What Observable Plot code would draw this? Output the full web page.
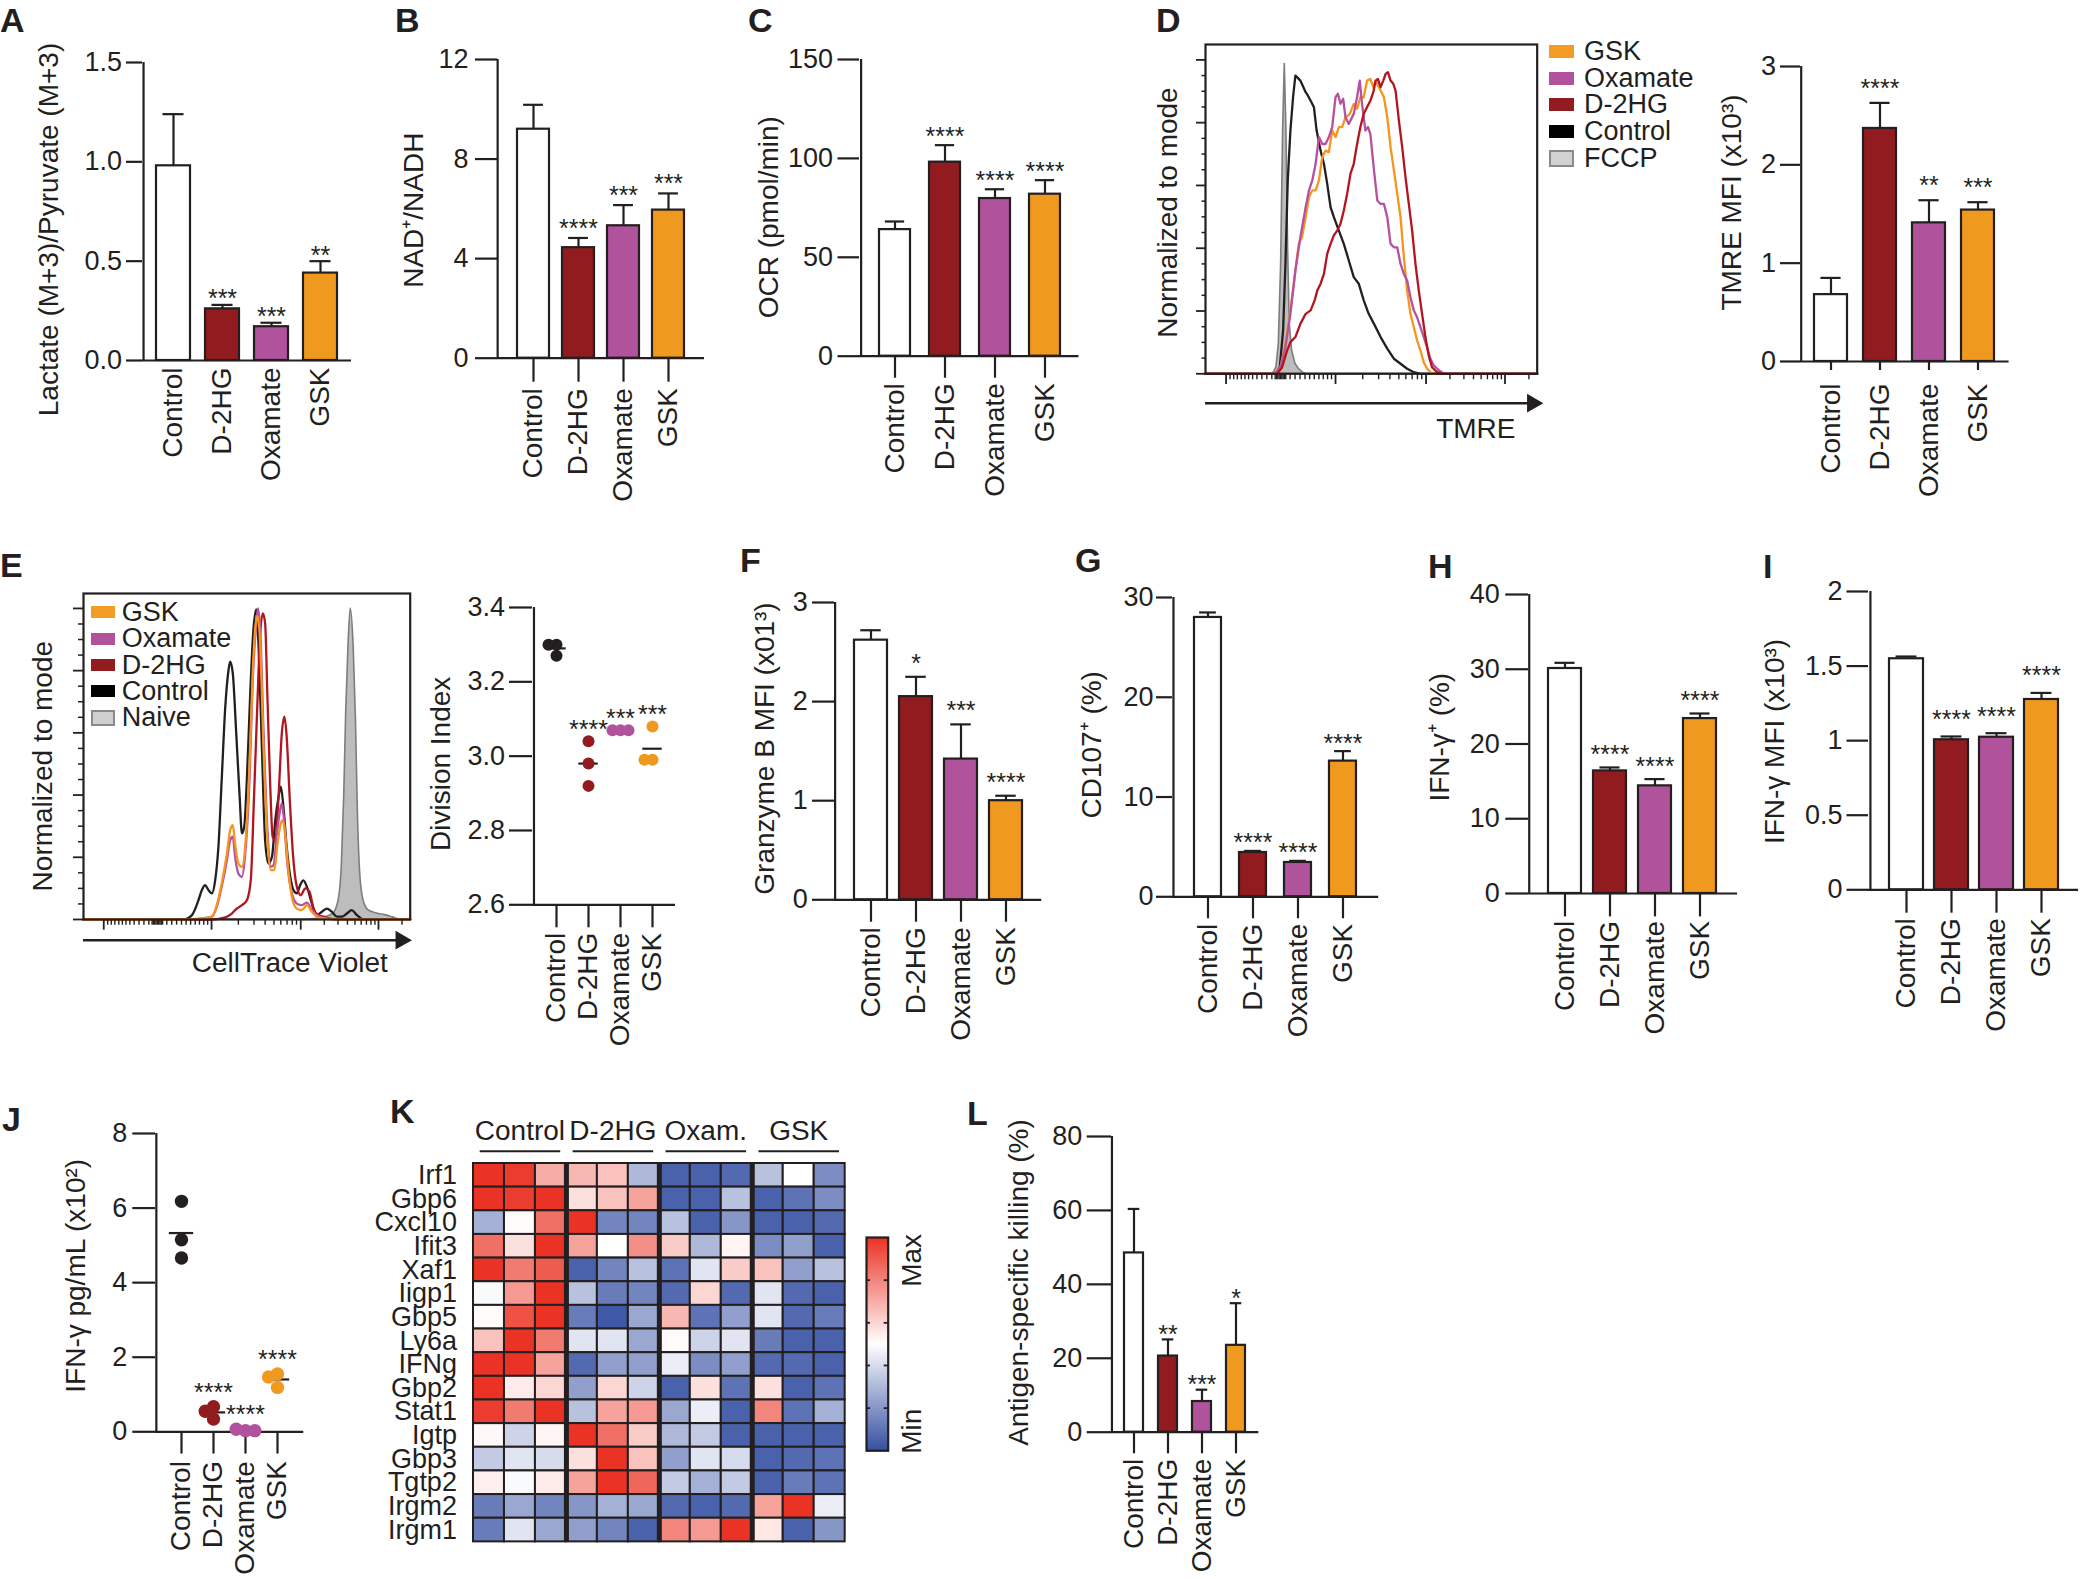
<!DOCTYPE html>
<html><head><meta charset="utf-8">
<script src="https://cdn.jsdelivr.net/npm/d3@7"></script>
<script src="https://cdn.jsdelivr.net/npm/@observablehq/plot@0.6"></script>
<style>
html,body{margin:0;padding:0;background:#fff;}
#root{position:relative;width:2080px;height:1579px;overflow:hidden;font-family:'Liberation Sans',Arial,Helvetica,sans-serif;color:#231f20;background:#fff;}
.plabel{position:absolute;font-weight:bold;font-size:34px;line-height:34px;}
.leg{position:absolute;display:flex;align-items:center;font-size:27px;line-height:1;white-space:nowrap;}
.sw{display:inline-block;box-sizing:border-box;}
</style></head><body><div id="root"></div><script>
// ---------------- DATA ----------------
const groups = ["Control", "D-2HG", "Oxamate", "GSK"];
const barFill = ["#ffffff", "#921b1f", "#b1529c", "#f0991f"];
const dotFill = ["#231f20", "#921b1f", "#b1529c", "#f0991f"];

// A
const lactateRatio = [0.98, 0.26, 0.17, 0.44];
const lactateRatioSEM = [0.26, 0.02, 0.02, 0.06];
const lactateStars = ["", "***", "***", "**"];
// B
const nadRatio = [9.2, 4.44, 5.32, 5.95];
const nadRatioSEM = [0.98, 0.39, 0.83, 0.67];
const nadStars = ["", "****", "***", "***"];
// C
const ocr = [64.0, 98.1, 79.7, 81.9];
const ocrSEM = [4.1, 8.6, 4.7, 7.1];
const ocrStars = ["", "****", "****", "****"];
// D (bar)
const tmreMFI = [0.68, 2.37, 1.41, 1.54];
const tmreMFISEM = [0.17, 0.26, 0.23, 0.08];
const tmreStars = ["", "****", "**", "***"];
// F
const granzymeMFI = [2.62, 2.05, 1.42, 1.0];
const granzymeSEM = [0.1, 0.2, 0.35, 0.05];
const granzymeStars = ["", "*", "***", "****"];
// G
const cd107 = [28.0, 4.44, 3.44, 13.6];
const cd107SEM = [0.5, 0.16, 0.16, 1.0];
const cd107Stars = ["", "****", "****", "****"];
// H
const ifngPct = [30.1, 16.4, 14.4, 23.4];
const ifngPctSEM = [0.76, 0.46, 0.9, 0.68];
const ifngPctStars = ["", "****", "****", "****"];
// I
const ifngMFI = [1.549, 1.006, 1.023, 1.276];
const ifngMFISEM = [0.015, 0.022, 0.027, 0.044];
const ifngMFIStars = ["", "****", "****", "****"];
// L
const killing = [48.5, 20.6, 8.3, 23.5];
const killingSEM = [11.9, 4.5, 3.2, 11.4];
const killingStars = ["", "**", "***", "*"];
// E (dots)
const divisionIndex = [[3.27, 3.30, 3.30], [3.04, 2.98, 2.92], [3.07, 3.07, 3.07], [3.08, 2.99, 2.99]];
const divisionStars = ["", "****", "***", "***"];
// J (dots)
const ifngConc = [[6.18, 5.15, 4.66], [0.34, 0.67, 0.55], [0.03, 0.07, 0.03], [1.55, 1.19, 1.47]];
const ifngConcStars = ["", "****", "****", "****"];

// D histogram: [position on biexponential TMRE axis (0-100), % of mode]
const tmreFCCP = [[0,0],[20.4,0],[21.4,2.1],[22.1,9.6],[22.8,35.0],[23.4,77.5],[23.9,98.7],[24.4,77.5],[24.9,40.3],[25.4,15.9],[26.1,7.4],[27.1,3.2],[28.1,1.6],[29.6,0.2],[30.7,0],[100,0]];
const tmreControl = [[0,0],[21.1,0],[22.4,2.1],[23.4,13.8],[24.1,35.0],[24.8,61.6],[25.6,77.5],[26.4,88.1],[27.1,95.0],[27.6,94.5],[28.6,93.4],[30.2,89.7],[30.9,88.6],[31.7,87.0],[32.7,84.9],[33.5,77.5],[34.7,71.1],[35.7,66.9],[36.7,60.5],[37.7,53.1],[38.7,49.9],[40.2,45.6],[41.7,41.4],[43.2,36.1],[44.7,30.8],[46.2,28.7],[47.7,23.4],[49.2,19.1],[50.8,15.9],[52.8,11.7],[54.8,8.0],[56.8,4.8],[58.8,3.2],[60.8,1.6],[62.8,0.5],[64.8,0],[100,0]];
const tmreOxamate = [[0,0],[21.1,0],[22.6,2.1],[24.1,8.5],[25.6,19.1],[27.1,32.9],[28.6,43.5],[30.2,53.1],[31.2,58.4],[32.2,61.6],[33.2,66.9],[34.2,75.4],[35.2,73.2],[36.2,73.2],[37.2,75.4],[38.2,78.6],[39.2,88.1],[39.9,89.2],[40.7,86.0],[41.5,87.6],[42.2,81.7],[43.2,79.6],[44.7,82.8],[45.7,88.1],[46.5,93.4],[47.2,86.0],[48.2,77.5],[49.0,78.6],[49.7,76.4],[50.8,64.8],[51.8,55.2],[52.8,54.1],[53.8,54.1],[54.8,49.9],[55.8,41.4],[56.8,40.3],[57.8,40.3],[58.8,35.0],[59.8,31.8],[60.8,29.7],[61.8,24.4],[62.8,20.2],[63.8,18.0],[64.8,14.9],[65.8,11.7],[66.8,8.5],[67.8,4.8],[68.8,2.7],[70.4,1.1],[71.9,0],[100,0]];
const tmreGSK = [[0,0],[21.1,0],[22.6,2.1],[24.1,9.6],[25.6,20.2],[27.1,32.9],[28.1,41.4],[29.1,43.5],[30.2,49.9],[31.2,56.3],[32.2,58.4],[33.2,58.4],[34.2,61.6],[35.2,69.0],[36.2,71.1],[37.2,70.6],[38.2,77.5],[39.2,75.4],[40.2,78.6],[41.2,78.6],[42.2,81.7],[43.5,82.8],[44.7,86.0],[45.7,84.4],[46.7,88.1],[47.7,88.1],[48.7,93.4],[49.7,93.9],[50.6,91.3],[51.3,93.4],[52.0,91.8],[52.8,90.2],[53.8,88.1],[54.8,81.7],[55.8,72.2],[56.8,64.8],[57.8,57.3],[58.8,49.9],[59.8,37.2],[60.8,26.5],[61.8,19.1],[62.8,14.9],[63.8,10.6],[64.8,7.4],[65.8,3.7],[66.8,1.6],[68.3,0],[100,0]];
const tmreD2HG = [[0,0],[21.6,0],[23.1,2.1],[24.6,7.4],[25.6,10.1],[27.1,11.7],[28.6,15.9],[30.2,19.1],[31.7,20.2],[32.9,23.4],[33.7,26.5],[34.7,28.7],[35.7,31.8],[36.7,38.2],[37.7,41.4],[38.7,44.1],[39.7,45.6],[40.7,47.8],[41.7,52.0],[42.7,57.3],[43.7,63.7],[44.7,66.9],[45.7,73.2],[46.7,78.6],[47.7,82.8],[48.7,84.9],[49.7,87.0],[50.6,89.7],[51.3,93.4],[52.0,93.9],[52.8,91.3],[53.6,93.4],[54.3,95.5],[55.0,96.1],[55.8,93.4],[56.6,92.4],[57.3,90.2],[58.3,80.7],[59.3,72.2],[60.3,62.6],[61.3,54.1],[62.3,45.6],[63.3,35.0],[64.3,26.5],[65.3,19.1],[66.3,11.7],[67.3,5.8],[68.3,2.1],[69.8,0.5],[71.4,0],[100,0]];

// E histogram: [position on biexponential CellTrace Violet axis (0-100), % of mode]
const ctvNaive = [[0,0],[68.4,0],[73.5,0.6],[76.5,1.9],[78.1,6.2],[79.1,18.0],[79.8,39.4],[80.4,66.2],[81.1,87.7],[81.8,100],[82.7,87.7],[83.4,64.1],[84.0,34.1],[84.7,14.8],[85.7,6.2],[87.2,3.0],[89.8,1.9],[92.3,1.4],[94.9,0.6],[96.9,0],[100,0]];
const ctvControl = [[0,0],[30.6,0],[33.2,1.4],[35.2,6.2],[36.2,9.4],[37.2,11.0],[38.3,9.4],[39.3,8.4],[40.3,12.6],[41.3,23.4],[42.3,44.8],[43.4,68.4],[44.4,80.2],[44.9,82.9],[45.7,79.1],[46.7,60.9],[47.8,39.4],[48.5,27.7],[49.2,29.8],[50.0,44.8],[51.0,71.6],[52.0,93.0],[52.9,99.7],[53.6,87.7],[54.6,55.5],[55.6,25.5],[56.6,18.0],[57.7,20.2],[58.7,31.9],[59.7,39.4],[60.4,42.7],[61.2,36.2],[62.2,23.4],[63.3,13.7],[64.3,9.4],[65.3,8.4],[66.3,11.0],[67.3,12.6],[68.4,10.5],[69.9,5.1],[71.4,1.4],[73.0,2.5],[74.5,3.5],[76.0,2.5],[77.6,0.9],[79.1,0.9],[80.6,1.9],[82.1,3.0],[83.7,1.4],[85.7,0],[100,0]];
const ctvD2HG = [[0,0],[38.8,0],[41.8,0.3],[43.9,0.9],[45.4,1.9],[46.9,3.5],[48.5,4.6],[50.0,6.2],[51.2,12.6],[52.2,39.4],[53.3,71.6],[54.1,92.0],[54.9,98.4],[55.6,95.2],[56.3,71.6],[57.1,44.8],[57.9,26.6],[58.7,25.5],[59.7,39.4],[60.7,59.8],[61.5,65.2],[62.2,58.7],[63.1,39.4],[64.1,21.2],[65.3,10.5],[66.5,7.8],[67.9,10.0],[69.2,8.9],[70.4,3.5],[71.9,1.4],[73.5,0.9],[75.5,0.3],[78.6,0],[100,0]];
const ctvOxamate = [[0,0],[30.6,0],[35.7,0.3],[39.3,0.9],[40.8,4.1],[42.3,10.5],[43.9,19.1],[44.9,25.5],[45.7,26.6],[46.4,20.2],[47.4,14.8],[48.5,13.7],[49.5,21.2],[50.8,44.8],[51.8,77.0],[52.9,95.2],[53.4,100],[54.1,93.0],[55.1,60.9],[56.3,28.7],[57.3,16.9],[58.2,17.5],[59.2,27.7],[60.2,35.2],[60.7,37.3],[61.4,31.9],[62.4,17.9],[63.8,8.4],[65.3,5.1],[66.8,4.6],[68.4,5.4],[69.9,3.0],[71.9,1.1],[74.5,0.3],[78.6,0],[100,0]];
const ctvGSK = [[0,0],[30.6,0],[35.7,0.3],[39.3,0.9],[40.8,4.6],[42.3,11.6],[43.9,21.2],[44.9,28.7],[45.7,30.3],[46.4,24.4],[47.4,18.0],[48.5,16.9],[49.5,23.4],[50.8,49.1],[51.8,79.1],[52.6,94.0],[53.3,97.5],[54.1,88.5],[55.1,55.5],[56.3,25.5],[57.3,15.9],[58.4,15.9],[59.4,24.4],[60.4,30.9],[61.0,31.9],[61.7,27.7],[62.8,14.8],[64.0,6.2],[65.3,3.5],[66.8,3.0],[68.4,4.6],[69.9,2.5],[71.9,0.6],[74.5,0.2],[78.6,0],[100,0]];

const histMajorTicks = [6.2, 39.2, 66.5, 90.3];
const histMinorTicks = [7.4, 8.5, 9.6, 10.8, 11.9, 13.0, 14.2, 15.5, 17.0, 18.5, 20.0, 21.0, 21.4, 21.8, 22.2, 22.6, 23.0, 23.4, 23.8, 24.2, 25.5, 27.0, 28.5, 30.0, 31.4, 32.8, 34.2, 35.5, 36.8, 38.0, 47.4, 52.2, 55.6, 58.3, 60.4, 62.3, 63.9, 65.2, 73.7, 77.9, 80.8, 83.1, 85.0, 86.6, 88.0, 89.2, 97.5];
const modeMajorTicks = [0, 20, 40, 60, 80, 100];
const modeMinorTicks = [5, 10, 15, 25, 30, 35, 45, 50, 55, 65, 70, 75, 85, 90, 95];

const tmreLegend = ["GSK", "Oxamate", "D-2HG", "Control", "FCCP"];
const ctvLegend = ["GSK", "Oxamate", "D-2HG", "Control", "Naive"];

// K heatmap (row-scaled expression, -1 = Min, 1 = Max)
const heatGenes = ["Irf1","Gbp6","Cxcl10","Ifit3","Xaf1","Iigp1","Gbp5","Ly6a","IFNg","Gbp2","Stat1","Igtp","Gbp3","Tgtp2","Irgm2","Irgm1"];
const heatGroups = ["Control", "D-2HG", "Oxam.", "GSK"];
const heatZ = [
  [1, 0.95, 0.4, 0.35, 0.3, -0.4, -0.9, -0.9, -0.85, -0.35, 0.0, -0.65],
  [1, 0.95, 1, 0.15, 0.3, 0.45, -0.9, -0.9, -0.35, -0.9, -0.8, -0.65],
  [-0.45, 0.02, 0.7, 1, -0.7, -0.7, -0.35, -0.9, -0.6, -0.9, -0.9, -0.85],
  [0.7, 0.15, 1, 0.45, 0.0, 0.55, 0.25, -0.4, 0.05, -0.65, -0.55, -0.9],
  [1, 0.65, 0.8, -0.9, -0.7, -0.35, -0.8, -0.15, 0.25, 0.3, -0.55, -0.35],
  [-0.03, 0.5, 1, -0.35, -0.75, -0.7, -0.85, 0.2, -0.85, -0.15, -0.85, -0.9],
  [0.02, 0.85, 1, -0.75, -0.95, -0.5, 0.35, -0.8, -0.55, -0.15, -0.85, -0.75],
  [0.3, 1, 0.65, -0.15, -0.15, -0.5, 0.02, -0.25, -0.15, -0.75, -0.9, -0.9],
  [1, 1, 0.45, -0.85, -0.55, -0.55, -0.1, -0.65, -0.55, -0.85, -0.85, -0.9],
  [1, 0.1, 0.2, -0.55, 0.2, -0.25, -0.9, 0.15, -0.8, 0.15, -0.9, -0.8],
  [0.95, 0.65, 1, -0.35, 0.45, 0.5, -0.5, -0.1, -0.9, 0.6, -0.8, -0.45],
  [0.03, -0.25, 0.05, 1, 0.7, 0.25, -0.4, -0.3, -0.9, -0.9, -0.9, -0.9],
  [-0.3, -0.15, -0.2, 0.15, 1, 0.3, -0.55, -0.15, -0.2, -0.9, -0.85, -0.8],
  [0.08, -0.03, 0.1, 0.45, 1, 0.75, -0.3, -0.45, -0.3, -0.9, -0.75, -0.8],
  [-0.75, -0.5, -0.7, -0.6, -0.45, -0.5, -0.85, -0.9, -0.85, 0.45, 1, -0.1],
  [-0.75, -0.15, -0.5, -0.55, -0.7, -0.9, 0.6, 0.5, 1, 0.12, -0.9, -0.6]
];

// ---------------- RENDER ----------------
const INK = "#231f20";
const FONT = "'Liberation Sans', Arial, Helvetica, sans-serif";
const root = document.getElementById("root");
const baseStyle = {fontFamily: FONT, fontSize: "27px", color: INK, background: "transparent", overflow: "visible"};
const heatColor = {type: "linear", domain: [-1, 0, 1], range: ["#3550a2", "#ffffff", "#ea3324"]};
const plainFmt = d => String(d);

function place(node, left, top) {
  node.style.position = "absolute";
  node.style.left = left + "px";
  node.style.top = top + "px";
  node.style.maxWidth = "none";
  root.appendChild(node);
}

function catPanel(cfg, extraMarks) {
  const mL = 150, mR = 14, mT = 60, mB = 200;
  const fw = cfg.right - cfg.axisX, fh = cfg.zero - cfg.top;
  const ymin = cfg.min ?? 0;
  const step = fw / (groups.length - cfg.pi + 2 * cfg.po);
  const bw = step * (1 - cfg.pi);
  const firstCenter = cfg.po * step + bw / 2;
  const geo = {mL, mR, mT, mB, width: mL + fw + mR, height: mT + fh + mB, bw, ymin};
  const marks = [
    ...extraMarks(geo),
    Plot.ruleY([ymin], {stroke: INK, strokeWidth: 2.2}),
    Plot.ruleX([groups[0]], {y1: ymin, y2: cfg.max, dx: -firstCenter, stroke: INK, strokeWidth: 2.2}),
    Plot.axisY({ticks: cfg.ticks, tickSize: cfg.tickLen, tickPadding: cfg.tickPad, tickFormat: cfg.fmt ?? plainFmt, label: null, fontSize: 27, stroke: INK, strokeWidth: 2.2}),
    Plot.axisX({tickSize: cfg.catTick, tickPadding: cfg.catPad, tickRotate: -90, label: null, fontSize: 28, stroke: INK, strokeWidth: 2.2}),
    Plot.text([cfg.title], {frameAnchor: "left", rotate: -90, dx: cfg.titleX - cfg.axisX, dy: cfg.titleY - (cfg.top + cfg.zero) / 2, fontSize: 28, textAnchor: "middle", lineAnchor: "middle", fill: INK})
  ];
  const svg = Plot.plot({
    width: geo.width, height: geo.height, marginLeft: mL, marginRight: mR, marginTop: mT, marginBottom: mB,
    x: {type: "band", domain: groups, paddingInner: cfg.pi, paddingOuter: cfg.po},
    y: {domain: [ymin, cfg.max]},
    color: {domain: groups, range: cfg.colors ?? barFill},
    style: baseStyle, marks
  });
  place(svg, cfg.axisX - mL, cfg.top - mT);
  return geo;
}

function barPanel(cfg, mean, sem, stars) {
  const data = groups.map((g, i) => ({g, mean: mean[i], upper: mean[i] + sem[i], star: stars[i]}));
  catPanel(cfg, (geo) => [
    Plot.ruleX(data, {x: "g", y1: "mean", y2: "upper", stroke: INK, strokeWidth: 2.2}),
    Plot.tickY(data, {x: "g", y: "upper", stroke: INK, strokeWidth: 2.2, inset: geo.bw * 0.19}),
    Plot.barY(data, {x: "g", y: "mean", fill: "g", stroke: INK, strokeWidth: 2.2}),
    Plot.text(data.filter(d => d.star), {x: "g", y: "upper", text: "star", lineAnchor: "bottom", dy: 14.5 - cfg.starGap, fontSize: 25, fill: INK})
  ]);
}

function dotPanel(cfg, values, stars) {
  const pts = groups.flatMap((g, i) => values[i].map(v => ({g, v})));
  const tops = groups.map((g, i) => ({g, max: d3.max(values[i]), star: stars[i]}));
  const geo = catPanel({...cfg, colors: dotFill}, (geo) => [
    Plot.tickY(pts, Plot.groupX({y: "mean"}, {x: "g", y: "v", stroke: INK, strokeWidth: 2.2, inset: (geo.bw - cfg.meanLen) / 2})),
    Plot.text(tops.filter(d => d.star), {x: "g", y: "max", text: "star", lineAnchor: "bottom", dy: 14.5 - cfg.starGap - cfg.r, fontSize: 25, fill: INK})
  ]);
  const ov = Plot.plot({
    width: geo.width, height: geo.height, marginLeft: geo.mL, marginRight: geo.mR, marginTop: geo.mT, marginBottom: geo.mB,
    fx: {domain: groups, paddingInner: 0, paddingOuter: cfg.po, axis: null},
    y: {domain: [geo.ymin, cfg.max], axis: null},
    color: {domain: groups, range: dotFill},
    style: baseStyle,
    marks: [Plot.dot(pts, Plot.dodgeX({anchor: "middle", padding: -4}, {fx: "g", y: "v", r: cfg.r, fill: "g", stroke: "none"}))]
  });
  place(ov, cfg.axisX - geo.mL, cfg.top - geo.mT);
}

function histPanel(cfg, fillSeries, lines) {
  const mL = 70, mR = 20, mT = 10, mB = 80;
  const fw = cfg.right - cfg.left, fh = cfg.bottom - cfg.top;
  const X = d => d[0], Y = d => d[1];
  const svg = Plot.plot({
    width: mL + fw + mR, height: mT + fh + mB, marginLeft: mL, marginRight: mR, marginTop: mT, marginBottom: mB,
    x: {domain: [0, 100]}, y: {domain: [0, cfg.ymax]},
    style: baseStyle,
    marks: [
      Plot.areaY(fillSeries, {x: X, y: Y, fill: "#bdbdbd", stroke: "#7d7d7d", strokeWidth: 1.6, curve: cfg.curve}),
      ...lines.map(l => Plot.line(l.data, {x: X, y: Y, stroke: l.color, strokeWidth: 2.3, curve: cfg.curve})),
      Plot.frame({stroke: INK, strokeWidth: 2.2}),
      Plot.axisY({ticks: modeMajorTicks, tickSize: cfg.yMajor, tickFormat: () => "", label: null, stroke: INK, strokeWidth: 1.8}),
      Plot.axisY({ticks: modeMinorTicks, tickSize: cfg.yMinor, tickFormat: () => "", label: null, stroke: INK, strokeWidth: 1.5}),
      Plot.axisX({ticks: histMajorTicks, tickSize: 10.7, tickFormat: () => "", label: null, stroke: INK, strokeWidth: 1.8}),
      Plot.axisX({ticks: histMinorTicks, tickSize: cfg.xMinor, tickFormat: () => "", label: null, stroke: INK, strokeWidth: 1.4}),
      Plot.ruleY([0], {dy: cfg.arrowDy, stroke: INK, strokeWidth: 2.6}),
      Plot.dot([0], {frameAnchor: "bottom-right", dx: cfg.triDx, dy: cfg.arrowDy, symbol: "triangle", rotate: 90, r: 7, fill: INK, stroke: "none"}),
      Plot.text([cfg.xlabel], {frameAnchor: "bottom-right", dx: cfg.xlabDx, dy: cfg.xlabDy, textAnchor: "end", lineAnchor: "middle", fontSize: 28, fill: INK}),
      Plot.text([cfg.ylabel], {frameAnchor: "left", rotate: -90, dx: cfg.ylabDx, dy: cfg.ylabDy, textAnchor: "middle", lineAnchor: "middle", fontSize: 28, fill: INK})
    ]
  });
  place(svg, cfg.left - mL, cfg.top - mT);
}

function htmlLegend(labels, colors, borders, cfg) {
  labels.forEach((label, i) => {
    const row = document.createElement("div");
    row.className = "leg";
    row.style.left = cfg.left + "px";
    row.style.top = (cfg.first + i * cfg.pitch - cfg.pitch / 2) + "px";
    row.style.height = cfg.pitch + "px";
    const sw = document.createElement("span");
    sw.className = "sw";
    sw.style.width = cfg.swW + "px";
    sw.style.height = (borders[i] ? cfg.swH + 4 : cfg.swH) + "px";
    sw.style.background = colors[i];
    if (borders[i]) sw.style.border = "2px solid " + borders[i];
    sw.style.marginRight = cfg.gap + "px";
    const t = document.createElement("span");
    t.textContent = label;
    row.appendChild(sw); row.appendChild(t);
    root.appendChild(row);
  });
}

// ---- Row 1 ----
barPanel({axisX: 142, right: 351, top: 62, zero: 360, max: 1.5, ticks: [0, 0.5, 1, 1.5], fmt: d3.format(".1f"), tickLen: 16, tickPad: 4.5, catTick: 0, catPad: 7, pi: 0.315, po: 0.26, titleX: 48.5, titleY: 229, starGap: 12, title: "Lactate (M+3)/Pyruvate (M+3)"}, lactateRatio, lactateRatioSEM, lactateStars);
barPanel({axisX: 497, right: 704, top: 59.3, zero: 358, max: 12, ticks: [0, 4, 8, 12], tickLen: 22, tickPad: 7, catTick: 24, catPad: 6, pi: 0.29, po: 0.44, titleX: 414, titleY: 210, starGap: 15.6, title: "NAD⁺/NADH"}, nadRatio, nadRatioSEM, nadStars);
barPanel({axisX: 858.5, right: 1078, top: 59.3, zero: 356, max: 150, ticks: [0, 50, 100, 150], tickLen: 21.5, tickPad: 5, catTick: 22, catPad: 5, pi: 0.39, po: 0.365, titleX: 768.5, titleY: 217, starGap: 15, title: "OCR (pmol/min)"}, ocr, ocrSEM, ocrStars);
histPanel({left: 1205, top: 44, right: 1536.7, bottom: 373.3, ymax: 104.9, yMajor: 9, yMinor: 3.5, xMinor: 6, arrowDy: 29.4, triDx: -4.7, xlabel: "TMRE", xlabDx: -21.7, xlabDy: 55.7, ylabel: "Normalized to mode", ylabDx: -37.5, ylabDy: 3.4, curve: "linear"},
  tmreFCCP, [{data: tmreControl, color: "#231f20"}, {data: tmreGSK, color: "#f7941d"}, {data: tmreOxamate, color: "#b6509f"}, {data: tmreD2HG, color: "#b3151f"}]);
htmlLegend(tmreLegend, ["#f39c25", "#b2529c", "#921b1f", "#000000", "#d2d2d2"], [null, null, null, null, "#8a8a8a"], {left: 1549, first: 51.5, pitch: 26.7, swW: 25, swH: 13, gap: 10});
barPanel({axisX: 1800, right: 2008.6, top: 66, zero: 361, max: 3, ticks: [0, 1, 2, 3], tickLen: 20, tickPad: 4.5, catTick: 9, catPad: 13, pi: 0.32, po: 0.26, titleX: 1732, titleY: 202, starGap: 20.7, title: "TMRE MFI (x10³)"}, tmreMFI, tmreMFISEM, tmreStars);

// ---- Row 2 ----
histPanel({left: 83.3, top: 593.3, right: 410, bottom: 919.3, ymax: 104.8, yMajor: 10, yMinor: 5, xMinor: 5.7, arrowDy: 20.7, triDx: -9.2, xlabel: "CellTrace Violet", xlabDx: -22.4, xlabDy: 43.7, ylabel: "Normalized to mode", ylabDx: -40.8, ylabDy: 9.7, curve: "monotone-x"},
  ctvNaive, [{data: ctvControl, color: "#231f20"}, {data: ctvD2HG, color: "#b3151f"}, {data: ctvOxamate, color: "#b6509f"}, {data: ctvGSK, color: "#f7941d"}]);
htmlLegend(ctvLegend, ["#f39c25", "#b2529c", "#921b1f", "#000000", "#cfcfcf"], [null, null, null, null, "#8a8a8a"], {left: 90.7, first: 612.5, pitch: 26.3, swW: 24, swH: 12, gap: 7});
dotPanel({axisX: 532, right: 675, top: 606.7, zero: 904, min: 2.6, max: 3.4, ticks: [2.6, 2.8, 3.0, 3.2, 3.4], fmt: d3.format(".1f"), tickLen: 23, tickPad: 4.4, catTick: 23, catPad: 5, pi: 0, po: 0.19, titleX: 440.5, titleY: 763, starGap: 12, r: 6, meanLen: 20, title: "Division Index"}, divisionIndex, divisionStars);
barPanel({axisX: 833.8, right: 1041, top: 602, zero: 899.3, max: 3, ticks: [0, 1, 2, 3], tickLen: 22, tickPad: 4.7, catTick: 22.4, catPad: 5, pi: 0.27, po: 0.43, titleX: 764.5, titleY: 748, starGap: 19.7, title: "Granzyme B MFI (x01³)"}, granzymeMFI, granzymeSEM, granzymeStars);
barPanel({axisX: 1171.8, right: 1378, top: 596.7, zero: 896, max: 30, ticks: [0, 10, 20, 30], tickLen: 16, tickPad: 3, catTick: 22, catPad: 5, pi: 0.41, po: 0.46, titleX: 1091, titleY: 744, starGap: 14, title: "CD107⁺ (%)"}, cd107, cd107SEM, cd107Stars);
barPanel({axisX: 1527.7, right: 1736.8, top: 594.3, zero: 893.3, max: 40, ticks: [0, 10, 20, 30, 40], tickLen: 22.7, tickPad: 6, catTick: 23.4, catPad: 4, pi: 0.26, po: 0.41, titleX: 1439, titleY: 737, starGap: 19, title: "IFN-γ⁺ (%)"}, ifngPct, ifngPctSEM, ifngPctStars);
barPanel({axisX: 1867.5, right: 2077.5, top: 591, zero: 889.3, max: 2, ticks: [0, 0.5, 1, 1.5, 2], tickLen: 21.5, tickPad: 4.5, catTick: 23.4, catPad: 5, pi: 0.25, po: 0.41, titleX: 1774.5, titleY: 741, starGap: 23, title: "IFN-γ MFI (x10³)"}, ifngMFI, ifngMFISEM, ifngMFIStars);

// ---- Row 3 ----
dotPanel({axisX: 155, right: 303.3, top: 1132.7, zero: 1431, min: 0, max: 8, ticks: [0, 2, 4, 6, 8], tickLen: 22.7, tickPad: 5.6, catTick: 22.3, catPad: 7, pi: 0, po: 0.27, titleX: 75.5, titleY: 1275, starGap: 14, r: 6.7, meanLen: 25, title: "IFN-γ pg/mL (x10²)"}, ifngConc, ifngConcStars);

// K heatmap
(function () {
  const left = 473.3, right = 845, top = 1163.3, bottom = 1541.7;
  const mL = 130, mR = 10, mT = 60, mB = 10;
  const cells = heatGenes.flatMap((gene, r) => heatZ[r].map((z, c) => ({r, c, z})));
  const svg = Plot.plot({
    width: mL + (right - left) + mR, height: mT + (bottom - top) + mB,
    marginLeft: mL, marginRight: mR, marginTop: mT, marginBottom: mB,
    x: {domain: [0, 12], axis: null}, y: {domain: [16, 0]},
    color: heatColor, style: baseStyle,
    marks: [
      Plot.rect(cells, {x1: d => d.c, x2: d => d.c + 1, y1: d => d.r, y2: d => d.r + 1, fill: "z", stroke: INK, strokeWidth: 2}),
      Plot.ruleX([3, 6, 9], {y1: 0, y2: 16, stroke: INK, strokeWidth: 5}),
      Plot.axisY({ticks: heatGenes.map((g, i) => i + 0.5), tickFormat: v => heatGenes[Math.floor(v)], tickSize: 0, tickPadding: 16.6, fontSize: 27, label: null}),
      Plot.text(heatGroups, {x: (d, i) => i * 3 + 1.5, y: -1.37, text: d => d, fontSize: 28, fill: INK, lineAnchor: "middle"}),
      Plot.link(heatGroups, {x1: (d, i) => i * 3 + 0.2, x2: (d, i) => i * 3 + 2.8, y1: -0.52, y2: -0.52, stroke: INK, strokeWidth: 2})
    ]
  });
  place(svg, left - mL, top - mT);

  // colour bar
  const cl = 866, cr = 887.7, ct = 1236.7, cb = 1450;
  const fw = cr - cl;
  const ramp = typeof Plot.raster === "function"
    ? Plot.raster({x1: 0, x2: 1, y1: -1, y2: 1, width: 1, height: 200, fill: (x, y) => y})
    : Plot.rect(d3.range(-1, 1, 0.02), {x1: 0, x2: 1, y1: d => d, y2: d => d + 0.02, fill: d => d + 0.01});
  const bar = Plot.plot({
    width: 5 + fw + 60, height: 10 + (cb - ct) + 10,
    marginLeft: 5, marginRight: 60, marginTop: 10, marginBottom: 10,
    x: {domain: [0, 1], axis: null}, y: {domain: [-1, 1], axis: null},
    color: heatColor, style: baseStyle,
    marks: [
      ramp,
      Plot.frame({stroke: INK, strokeWidth: 2.2}),
      Plot.tickY([-0.6, -0.2, 0.2, 0.6], {stroke: INK, strokeWidth: 1.8, insetRight: fw - 4}),
      Plot.tickY([-0.6, -0.2, 0.2, 0.6], {stroke: INK, strokeWidth: 1.8, insetLeft: fw - 4}),
      Plot.text(["Max"], {frameAnchor: "top-right", rotate: -90, textAnchor: "end", lineAnchor: "middle", dx: 24.3, dy: -3.5, fontSize: 28, fill: INK}),
      Plot.text(["Min"], {frameAnchor: "bottom-right", rotate: -90, textAnchor: "start", lineAnchor: "middle", dx: 24.3, dy: 3, fontSize: 28, fill: INK})
    ]
  });
  place(bar, cl - 5, ct - 10);
})();

barPanel({axisX: 1111, right: 1258.3, top: 1136, zero: 1431.7, max: 80, ticks: [0, 20, 40, 60, 80], tickLen: 24.3, tickPad: 5, catTick: 21.6, catPad: 5, pi: 0.43, po: 0.356, titleX: 1019, titleY: 1282, starGap: 11, title: "Antigen-specific killing (%)"}, killing, killingSEM, killingStars);

// panel letters
[["A", 0, 7], ["B", 395, 7], ["C", 748, 7], ["D", 1156, 7], ["E", 0, 552], ["F", 740, 547], ["G", 1075, 547], ["H", 1428, 553], ["I", 1763, 553], ["J", 2, 1106], ["K", 390, 1098], ["L", 967, 1100]]
  .forEach(([t, x, y]) => {
    const d = document.createElement("div");
    d.className = "plabel";
    d.textContent = t;
    d.style.left = x + "px";
    d.style.top = (y - 4) + "px";
    root.appendChild(d);
  });
</script></body></html>
